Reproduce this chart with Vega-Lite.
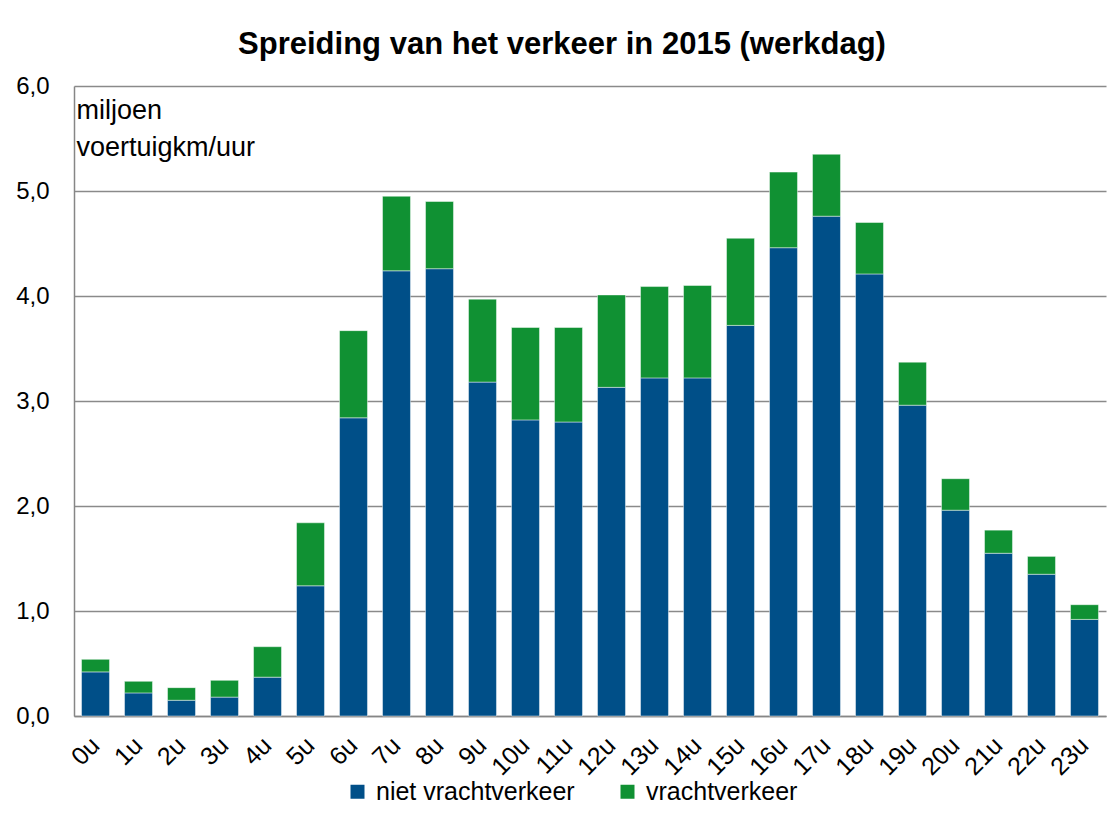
{
  "$schema": "https://vega.github.io/schema/vega-lite/v6.json",
  "width": 1032,
  "height": 630,
  "autosize": {"type": "none"},
  "padding": {"left": 74, "top": 86, "right": 10, "bottom": 107},
  "background": "white",
  "title": {
    "text": "Spreiding van het verkeer in 2015 (werkdag)",
    "font": "Liberation Sans",
    "fontSize": 31,
    "fontWeight": "bold",
    "color": "#000000",
    "anchor": "middle",
    "frame": "group",
    "dx": -28,
    "offset": 13
  },
  "data": {
    "values": [
      {"uur": "0u", "soort": "niet vrachtverkeer", "waarde": 0.42},
      {"uur": "0u", "soort": "vrachtverkeer", "waarde": 0.12},
      {"uur": "1u", "soort": "niet vrachtverkeer", "waarde": 0.22},
      {"uur": "1u", "soort": "vrachtverkeer", "waarde": 0.11},
      {"uur": "2u", "soort": "niet vrachtverkeer", "waarde": 0.15},
      {"uur": "2u", "soort": "vrachtverkeer", "waarde": 0.12},
      {"uur": "3u", "soort": "niet vrachtverkeer", "waarde": 0.18},
      {"uur": "3u", "soort": "vrachtverkeer", "waarde": 0.16},
      {"uur": "4u", "soort": "niet vrachtverkeer", "waarde": 0.37},
      {"uur": "4u", "soort": "vrachtverkeer", "waarde": 0.29},
      {"uur": "5u", "soort": "niet vrachtverkeer", "waarde": 1.24},
      {"uur": "5u", "soort": "vrachtverkeer", "waarde": 0.60},
      {"uur": "6u", "soort": "niet vrachtverkeer", "waarde": 2.84},
      {"uur": "6u", "soort": "vrachtverkeer", "waarde": 0.83},
      {"uur": "7u", "soort": "niet vrachtverkeer", "waarde": 4.24},
      {"uur": "7u", "soort": "vrachtverkeer", "waarde": 0.71},
      {"uur": "8u", "soort": "niet vrachtverkeer", "waarde": 4.26},
      {"uur": "8u", "soort": "vrachtverkeer", "waarde": 0.64},
      {"uur": "9u", "soort": "niet vrachtverkeer", "waarde": 3.18},
      {"uur": "9u", "soort": "vrachtverkeer", "waarde": 0.79},
      {"uur": "10u", "soort": "niet vrachtverkeer", "waarde": 2.82},
      {"uur": "10u", "soort": "vrachtverkeer", "waarde": 0.88},
      {"uur": "11u", "soort": "niet vrachtverkeer", "waarde": 2.80},
      {"uur": "11u", "soort": "vrachtverkeer", "waarde": 0.90},
      {"uur": "12u", "soort": "niet vrachtverkeer", "waarde": 3.13},
      {"uur": "12u", "soort": "vrachtverkeer", "waarde": 0.88},
      {"uur": "13u", "soort": "niet vrachtverkeer", "waarde": 3.22},
      {"uur": "13u", "soort": "vrachtverkeer", "waarde": 0.87},
      {"uur": "14u", "soort": "niet vrachtverkeer", "waarde": 3.22},
      {"uur": "14u", "soort": "vrachtverkeer", "waarde": 0.88},
      {"uur": "15u", "soort": "niet vrachtverkeer", "waarde": 3.72},
      {"uur": "15u", "soort": "vrachtverkeer", "waarde": 0.83},
      {"uur": "16u", "soort": "niet vrachtverkeer", "waarde": 4.46},
      {"uur": "16u", "soort": "vrachtverkeer", "waarde": 0.72},
      {"uur": "17u", "soort": "niet vrachtverkeer", "waarde": 4.76},
      {"uur": "17u", "soort": "vrachtverkeer", "waarde": 0.59},
      {"uur": "18u", "soort": "niet vrachtverkeer", "waarde": 4.21},
      {"uur": "18u", "soort": "vrachtverkeer", "waarde": 0.49},
      {"uur": "19u", "soort": "niet vrachtverkeer", "waarde": 2.96},
      {"uur": "19u", "soort": "vrachtverkeer", "waarde": 0.41},
      {"uur": "20u", "soort": "niet vrachtverkeer", "waarde": 1.96},
      {"uur": "20u", "soort": "vrachtverkeer", "waarde": 0.30},
      {"uur": "21u", "soort": "niet vrachtverkeer", "waarde": 1.55},
      {"uur": "21u", "soort": "vrachtverkeer", "waarde": 0.22},
      {"uur": "22u", "soort": "niet vrachtverkeer", "waarde": 1.35},
      {"uur": "22u", "soort": "vrachtverkeer", "waarde": 0.17},
      {"uur": "23u", "soort": "niet vrachtverkeer", "waarde": 0.92},
      {"uur": "23u", "soort": "vrachtverkeer", "waarde": 0.14}
    ]
  },
  "mark": {"type": "bar", "stroke": "#ffffff", "strokeOpacity": 0.45, "strokeWidth": 1},
  "encoding": {
    "x": {
      "field": "uur",
      "type": "nominal",
      "sort": null,
      "scale": {"paddingInner": 0.35, "paddingOuter": 0.175},
      "axis": {
        "title": null,
        "labelAngle": -45,
        "labelAlign": "right",
        "labelBaseline": "middle",
        "labelPadding": 25,
        "labelFont": "Liberation Sans",
        "labelFontSize": 25,
        "labelColor": "#000000",
        "ticks": false,
        "domainColor": "#868686",
        "domainWidth": 1.5,
        "grid": false
      }
    },
    "y": {
      "field": "waarde",
      "type": "quantitative",
      "stack": "zero",
      "scale": {"domain": [0, 6], "nice": false},
      "axis": {
        "values": [0, 1, 2, 3, 4, 5, 6],
        "labelExpr": "replace(format(datum.value, '.1f'), '.', ',')",
        "labelFont": "Liberation Sans",
        "labelFontSize": 24,
        "labelColor": "#000000",
        "labelPadding": 25,
        "ticks": false,
        "domainColor": "#868686",
        "domainWidth": 1.5,
        "grid": true,
        "gridColor": "#8a8a8a",
        "gridWidth": 1.5,
        "title": ["miljoen", "voertuigkm/uur"],
        "titleFont": "Liberation Sans",
        "titleFontSize": 27,
        "titleFontWeight": "normal",
        "titleColor": "#000000",
        "titleAngle": 0,
        "titleAlign": "left",
        "titleBaseline": "alphabetic",
        "titleX": 2,
        "titleY": 32,
        "titleLineHeight": 37
      }
    },
    "order": {"field": "soort", "sort": "ascending"},
    "color": {
      "field": "soort",
      "type": "nominal",
      "scale": {"domain": ["niet vrachtverkeer", "vrachtverkeer"], "range": ["#004f88", "#109133"]},
      "legend": {
        "title": null,
        "orient": "none",
        "direction": "horizontal",
        "legendX": 271,
        "legendY": 693,
        "padding": 0,
        "symbolType": "square",
        "symbolSize": 196,
        "symbolStrokeWidth": 0,
        "labelFont": "Liberation Sans",
        "labelFontSize": 25,
        "labelLimit": 0,
        "labelColor": "#000000",
        "labelOffset": 6,
        "columnPadding": 40
      }
    }
  },
  "config": {
    "view": {"stroke": null}
  }
}
